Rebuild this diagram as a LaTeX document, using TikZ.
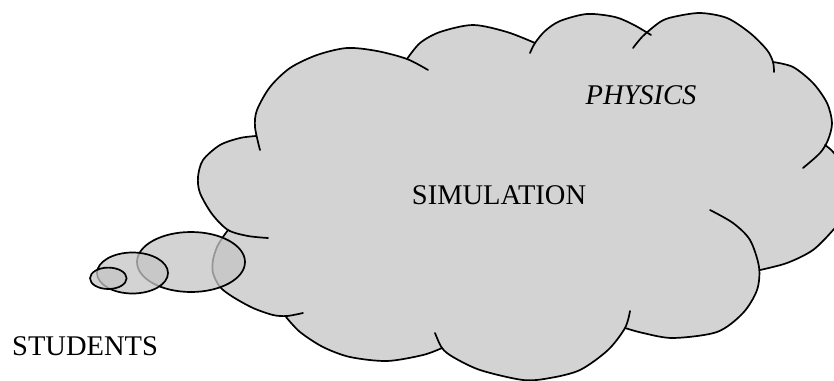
\documentclass[tikz,border=0pt]{standalone}
\usepackage{fontspec}
\setmainfont{Liberation Serif}
\definecolor{cloudgray}{RGB}{211,211,211}
\definecolor{bubblegray}{RGB}{197,197,197}
\begin{document}
\begin{tikzpicture}[x=1pt,y=-1pt,
  outl/.style={line width=1.7pt, line join=round, line cap=round},
  bubble/.style={line width=1.7pt, draw=black, fill=bubblegray, fill opacity=0.76},
  lbl/.style={inner sep=0pt, anchor=base, font=\fontsize{28.5}{34}\selectfont}]
\useasboundingbox (0,0) rectangle (834,380);
\begin{scope}
\clip (0,0) rectangle (834,380);
\fill[cloudgray]
  plot[smooth] coordinates {(228,230) (212,214) (200,193) (198,177) (203,160) (220,145) (240,138) (256,136)}
  -- plot[smooth] coordinates {(256,136) (255,127) (257,110) (270,87) (290,68) (317,55) (347,48) (377,51) (407,59)}
  -- plot[smooth] coordinates {(407,59) (420,43) (440,32) (473,25) (507,32) (535,43)}
  -- plot[smooth] coordinates {(535,43) (545,31) (560,21) (587,14) (615,17) (634,25) (646,32)}
  -- plot[smooth] coordinates {(646,32) (660,22) (673,17) (700,13) (727,18) (750,33) (767,50) (773,62)}
  -- plot[smooth] coordinates {(773,62) (793,67) (813,83) (827,103) (832,123) (828,140) (825,145)}
  -- plot[smooth] coordinates {(825,145) (834,153) (843,170) (848,195) (844,215) (834,229) (813,250) (787,263) (760,270)}
  -- plot[smooth] coordinates {(759,268) (757,290) (743,313) (717,332) (673,338) (643,333) (625,328)}
  -- plot[smooth] coordinates {(625,328) (608,350) (580,370) (550,378) (523,380) (480,370) (453,357) (442,348)}
  -- plot[smooth] coordinates {(442,348) (423,355) (387,361) (350,357) (323,347) (300,332) (286,317)}
  -- plot[smooth] coordinates {(286,316) (273,315) (253,308) (233,297) (220,287) (213,273) (213,260) (217,247) (223,237) (228,230)}
  -- cycle;
\draw[outl] plot[smooth] coordinates {(268,238) (248,236) (228,230) (212,214) (200,193) (198,177) (203,160) (220,145) (240,138) (256,136)};
\draw[outl] plot[smooth] coordinates {(260,150) (255,127) (257,110) (270,87) (290,68) (317,55) (347,48) (377,51) (407,59) (428,70)};
\draw[outl] plot[smooth] coordinates {(407,59) (420,43) (440,32) (473,25) (507,32) (535,43)};
\draw[outl] plot[smooth] coordinates {(530,53) (535,43) (545,31) (560,21) (587,14) (615,17) (634,25) (651,35)};
\draw[outl] plot[smooth] coordinates {(633,48) (643,36) (660,22) (673,17) (700,13) (727,18) (750,33) (767,50) (773,62) (774,72)};
\draw[outl] plot[smooth] coordinates {(773,62) (793,67) (813,83) (827,103) (832,123) (828,140) (820,153) (803,168)};
\draw[outl] plot[smooth] coordinates {(825,145) (834,153) (843,170) (848,195) (844,215) (834,229) (813,250) (787,263) (760,270)};
\draw[outl] plot[smooth] coordinates {(710,210) (733,223) (750,240) (759,267) (757,290) (743,313) (717,332) (673,338) (643,333) (625,328)};
\draw[outl] plot[smooth] coordinates {(630,311) (625,328) (608,350) (580,370) (550,378) (523,380) (480,370) (453,357) (442,348) (435,333)};
\draw[outl] plot[smooth] coordinates {(442,348) (423,355) (387,361) (350,357) (323,347) (300,332) (286,317)};
\draw[outl] plot[smooth] coordinates {(228,230) (223,237) (217,247) (213,260) (213,273) (220,287) (233,297) (253,308) (273,315) (287,316) (303,313)};
\end{scope}
\draw[bubble] (191,262) ellipse [x radius=54pt, y radius=30pt];
\draw[bubble] (132.5,273) ellipse [x radius=35.5pt, y radius=20.5pt];
\draw[bubble] (108.3,278.3) ellipse [x radius=18.3pt, y radius=10.7pt];
\node[lbl] (sim) at (499,204) {SIMULATION};
\node[lbl] (phys) at (641,104) {\itshape PHYSICS};
\node[lbl, anchor=base west] (stud) at (12,355) {STUDENTS};
\end{tikzpicture}
\end{document}
